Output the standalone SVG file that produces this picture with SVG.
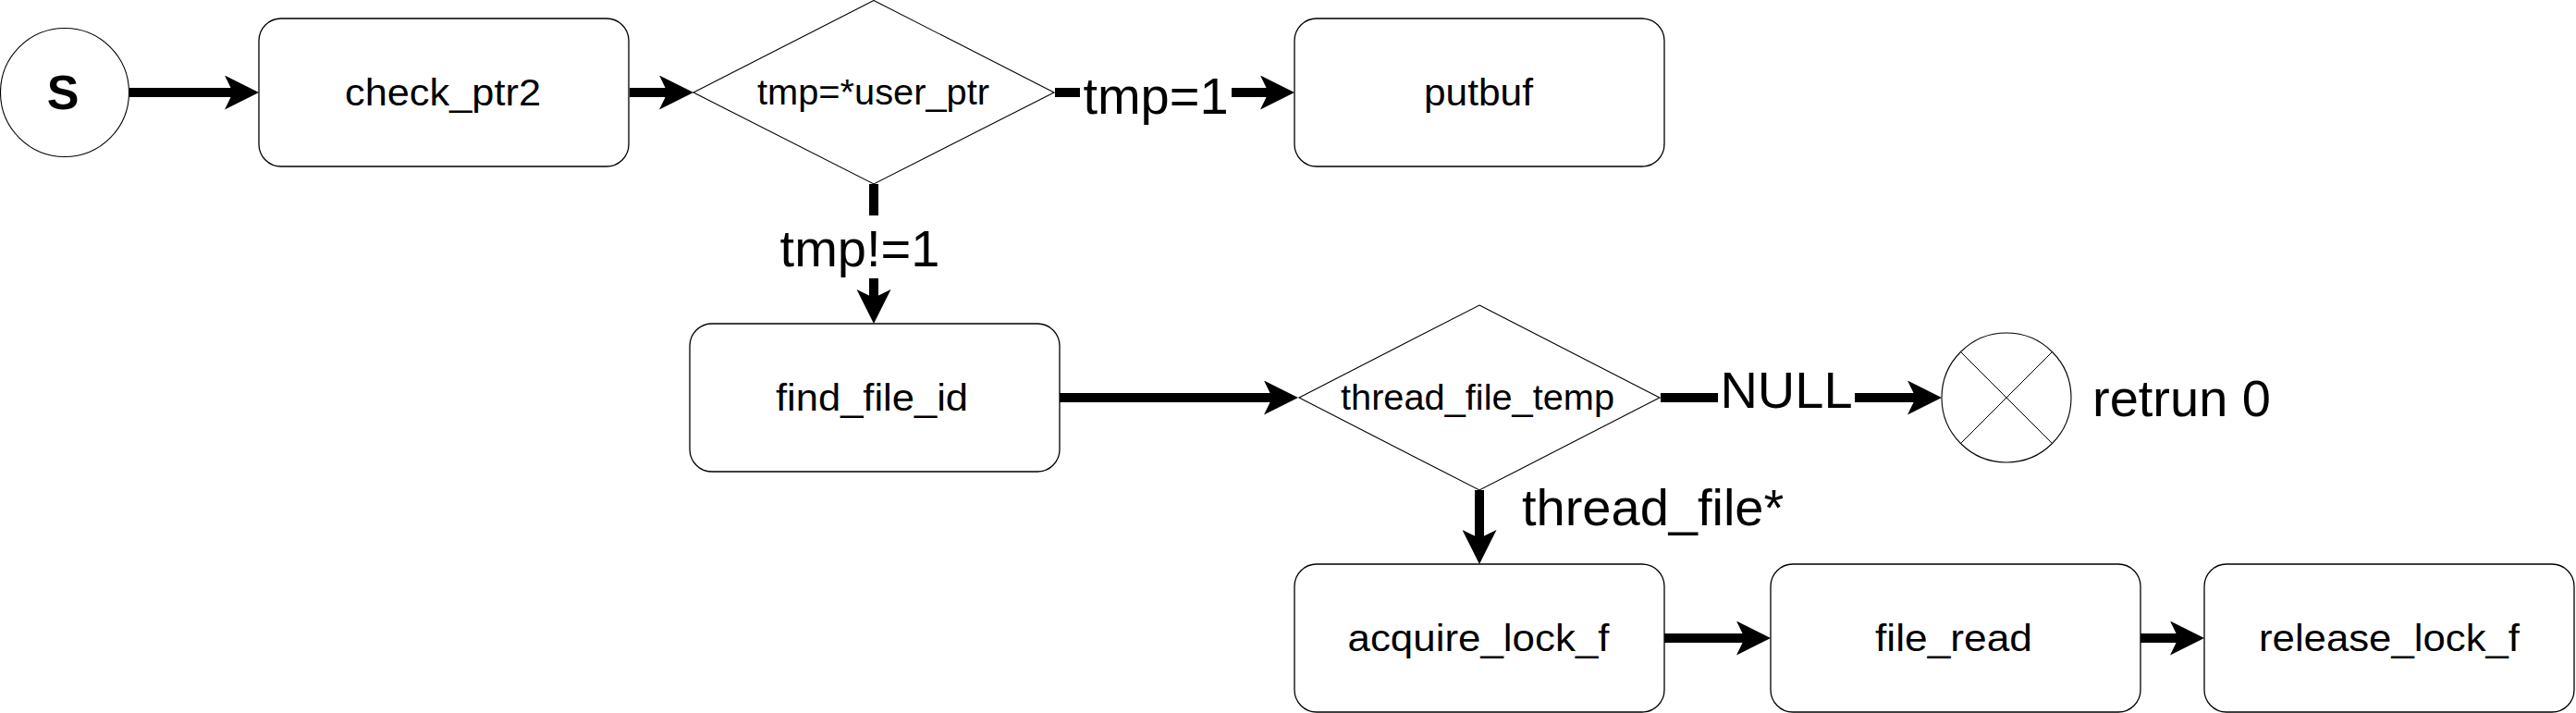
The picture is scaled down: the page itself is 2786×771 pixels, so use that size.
<svg xmlns="http://www.w3.org/2000/svg" width="2786" height="771" viewBox="0 0 2786 771">
<style>
.box{fill:#fff;stroke:#000;stroke-width:1.3}
.dia{fill:#fff;stroke:#000;stroke-width:1.1}
.ntxt{font-family:"Liberation Sans",Arial,sans-serif;font-size:40px;fill:#000;text-anchor:middle}
.dtxt{font-family:"Liberation Sans",Arial,sans-serif;font-size:38px;fill:#000;text-anchor:middle}
.ltxt{font-family:"Liberation Sans",Arial,sans-serif;font-size:56px;fill:#000}
.edge{fill:none;stroke:#000;stroke-width:10;marker-end:url(#arr)}
.lbg{fill:#fff}
</style>
<defs>
<marker id="arr" markerUnits="userSpaceOnUse" viewBox="0 0 37 37" markerWidth="37" markerHeight="37" refX="9" refY="18.5" orient="auto">
<path d="M0,0 L37,18.5 L0,37 L9,18.5 Z" fill="#000"/>
</marker>
</defs>
<rect width="2786" height="771" fill="#fff"/>
<g id="connectors">
<path class="edge" d="M140,100 H252"/>
<path class="edge" d="M681,100 H722"/>
<path class="edge" d="M1141,100 H1372"/>
<path class="edge" d="M945,199 V322"/>
<path class="edge" d="M1146,430 H1376"/>
<path class="edge" d="M1796,430 H2072"/>
<path class="edge" d="M1600,530 V582"/>
<path class="edge" d="M1800,690 H1887"/>
<path class="edge" d="M2315,690 H2356"/>
<rect class="lbg" x="1168" y="78" width="164" height="50"/>
<text class="ltxt" x="1250" y="123" text-anchor="middle">tmp=1</text>
<rect class="lbg" x="845" y="233" width="170" height="68"/>
<text class="ltxt" x="930" y="288" text-anchor="middle">tmp!=1</text>
<rect class="lbg" x="1858" y="395" width="148" height="60"/>
<text class="ltxt" x="1932" y="441" text-anchor="middle">NULL</text>
<text class="ltxt" x="1646" y="568">thread_file*</text>
</g>
<g id="start">
<circle cx="70" cy="100" r="69.5" fill="#fff" stroke="#000" stroke-width="1.1"/>
<text x="68" y="118" font-family="'Liberation Sans',Arial,sans-serif" font-size="52" font-weight="bold" text-anchor="middle">S</text>
</g>
<g id="check_ptr2">
<rect class="box" x="280" y="20" width="400" height="160" rx="24"/>
<text class="ntxt" x="479" y="114" textLength="212" lengthAdjust="spacingAndGlyphs">check_ptr2</text>
</g>
<g id="decision_tmp">
<polygon class="dia" points="945,0.5 1140,100 945,199 750,100"/>
<text class="dtxt" x="944.5" y="113" textLength="251" lengthAdjust="spacingAndGlyphs">tmp=*user_ptr</text>
</g>
<g id="putbuf">
<rect class="box" x="1400" y="20" width="400" height="160" rx="24"/>
<text class="ntxt" x="1599" y="114" textLength="118" lengthAdjust="spacingAndGlyphs">putbuf</text>
</g>
<g id="find_file_id">
<rect class="box" x="746" y="350" width="400" height="160" rx="24"/>
<text class="ntxt" x="943" y="444" textLength="208" lengthAdjust="spacingAndGlyphs">find_file_id</text>
</g>
<g id="decision_thread">
<polygon class="dia" points="1600,330 1795,430 1600,530 1405,430"/>
<text class="dtxt" x="1598" y="443" textLength="296" lengthAdjust="spacingAndGlyphs">thread_file_temp</text>
</g>
<g id="end">
<circle cx="2170" cy="430" r="70" fill="#fff" stroke="#000" stroke-width="1.1"/>
<path d="M2120.5,380.5 L2219.5,479.5 M2219.5,380.5 L2120.5,479.5" stroke="#000" stroke-width="1"/>
<text class="ltxt" x="2263" y="450">retrun 0</text>
</g>
<g id="acquire_lock_f">
<rect class="box" x="1400" y="610" width="400" height="160" rx="24"/>
<text class="ntxt" x="1599" y="704" textLength="283" lengthAdjust="spacingAndGlyphs">acquire_lock_f</text>
</g>
<g id="file_read">
<rect class="box" x="1915" y="610" width="400" height="160" rx="24"/>
<text class="ntxt" x="2113" y="704" textLength="170" lengthAdjust="spacingAndGlyphs">file_read</text>
</g>
<g id="release_lock_f">
<rect class="box" x="2384" y="610" width="400" height="160" rx="24"/>
<text class="ntxt" x="2584" y="704" textLength="282" lengthAdjust="spacingAndGlyphs">release_lock_f</text>
</g>
</svg>
